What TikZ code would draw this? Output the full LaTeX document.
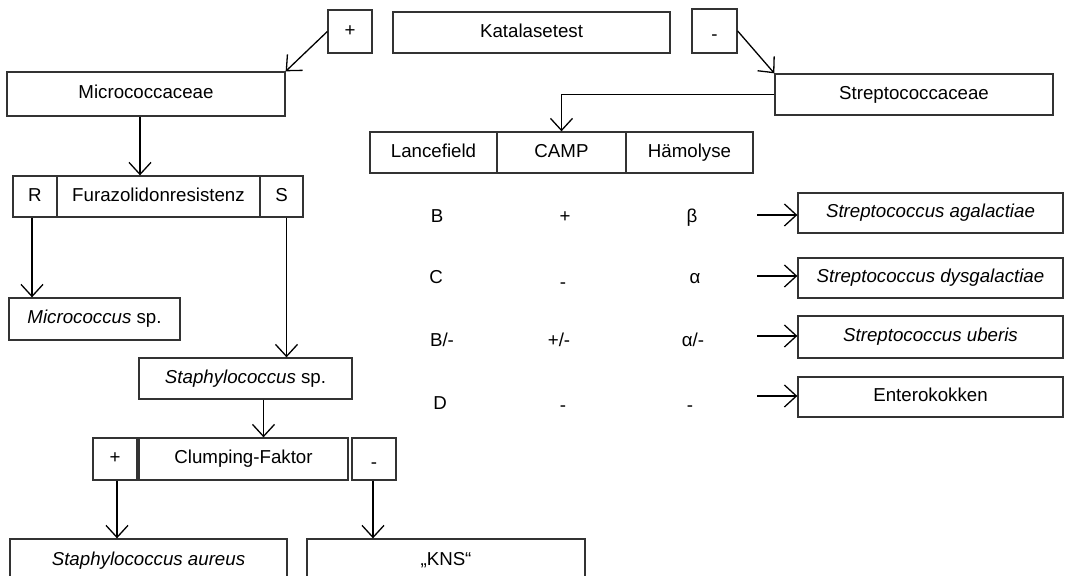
\documentclass[tikz,border=0pt]{standalone}
\usepackage{fontspec}
\setmainfont{Liberation Sans}
\usetikzlibrary{arrows.meta}

\begin{document}
\begin{tikzpicture}[x=0.5pt,y=-0.5pt,% one unit = one pixel of the scan
    font=\fontsize{9.35}{11}\selectfont,
    box/.style={draw=black!80, line width=0.65pt, inner sep=0pt, minimum height=20.5pt,
      text height=6.7pt, text depth=1.9pt},
    signbox/.style={box, minimum width=22pt, text height=9.6pt, text depth=0pt},
    arr/.style={-{Straight Barb[length=6pt,width=11pt]}, line width=0.65pt},
    cell/.style={anchor=base, inner sep=0pt}]
    \clip (0,0) rectangle (1066,576);

    % Katalasetest
    \node[box, minimum width=22pt, minimum height=21.5pt] (plus) at (350,31.5) {+};
    \node[box, minimum width=138.5pt] (kat) at (531.5,32.5) {Katalasetest};
    \node[signbox, minimum width=22.5pt, minimum height=22pt] (minus) at (714.5,31) {-};

    \node[box, minimum width=139pt, minimum height=22pt] (micro) at (146,94) {Micrococcaceae};
    \node[box, minimum width=139pt] (strepto) at (914,94.5) {Streptococcaceae};

    % Furazolidon row
    \node[box, minimum width=22pt] (res) at (35,196.5) {R};
    \node[box, minimum width=101.5pt] (fura) at (158.5,196.5) {Furazolidonresistenz};
    \node[box, minimum width=21.5pt] (sens) at (281.5,196.5) {S};

    \node[box, minimum width=85.5pt, minimum height=21pt] (micsp) at (94.5,319) {\textit{Micrococcus} sp.};
    \node[box, minimum width=106.5pt] (stasp) at (245.5,378.5) {\textit{Staphylococcus} sp.};

    % Clumping row
    \node[box, minimum width=22pt, minimum height=21pt] (cplus) at (115,459) {+};
    \node[box, minimum width=104.5pt, minimum height=21pt] (clump) at (243.5,459) {Clumping-Faktor};
    \node[signbox, minimum height=21pt] (cminus) at (374,459) {-};

    \node[box, minimum width=138.5pt, minimum height=22pt] (aureus) at (148.5,561) {\textit{Staphylococcus aureus}};
    \node[box, minimum width=139pt, minimum height=22pt] (kns) at (446,561) {„KNS“};

    % table head
    \node[box, minimum width=63.5pt] (lance) at (433.5,152.5) {Lancefield};
    \node[box, minimum width=64.5pt] (camp) at (561.5,152.5) {CAMP};
    \node[box, minimum width=63.5pt] (haemo) at (689.5,152.5) {Hämolyse};

    % table rows
    \node[cell] (l1) at (437,223) {B};
    \node[cell] (c1) at (565,223) {+};
    \node[cell] (h1) at (692,223) {β};
    \node[cell] (l2) at (436,284) {C};
    \node[cell] (c2) at (563,289) {-};
    \node[cell] (h2) at (695,284) {α};
    \node[cell] (l3) at (442,347) {B/-};
    \node[cell] (c3) at (559,347) {+/-};
    \node[cell] (h3) at (693,347) {α/-};
    \node[cell] (l4) at (440,410) {D};
    \node[cell] (c4) at (563,412) {-};
    \node[cell] (h4) at (690,412) {-};

    % species
    \node[box, minimum width=132.5pt, minimum height=20pt] (agal) at (930.5,213) {\textit{Streptococcus agalactiae}};
    \node[box, minimum width=132.5pt, minimum height=20pt] (dysg) at (930.5,278) {\textit{Streptococcus dysgalactiae}};
    \node[box, minimum width=132.5pt, minimum height=21pt] (uber) at (930.5,337) {\textit{Streptococcus uberis}};
    \node[box, minimum width=132.5pt, minimum height=20pt] (ente) at (930.5,397) {Enterokokken};

    \coordinate (s1) at (757,215);
    \coordinate (s2) at (757,276);
    \coordinate (s3) at (757,336);
    \coordinate (s4) at (757,396);

    % Draw arrows
    \draw[arr] (plus.west) -- (micro.north east);
    \draw[arr] (minus.east) -- (strepto.north west);
    \draw[arr] (strepto.west) -| (camp.north);
    \draw[arr] ([xshift=-3pt]micro.south) -- ([xshift=-3pt]micro.south |- fura.north);
    \draw[arr] ([xshift=-1.5pt]res.south) -- ([xshift=-1.5pt]res.south |- micsp.north);
    \draw[arr] ([xshift=2.5pt]sens.south) -- ([xshift=2.5pt]sens.south |- stasp.north);
    \draw[arr] ([xshift=9pt]stasp.south) -- ([xshift=9pt]stasp.south |- clump.north);
    \draw[arr] ([xshift=1pt]cplus.south) -- ([xshift=1pt]cplus.south |- aureus.north);
    \draw[arr] ([xshift=-0.5pt]cminus.south) -- ([xshift=-0.5pt]cminus.south |- kns.north);

    \draw[arr] (s1) -- (s1 -| agal.west);
    \draw[arr] (s2) -- (s2 -| dysg.west);
    \draw[arr] (s3) -- (s3 -| uber.west);
    \draw[arr] (s4) -- (s4 -| ente.west);

\end{tikzpicture}
\end{document}
